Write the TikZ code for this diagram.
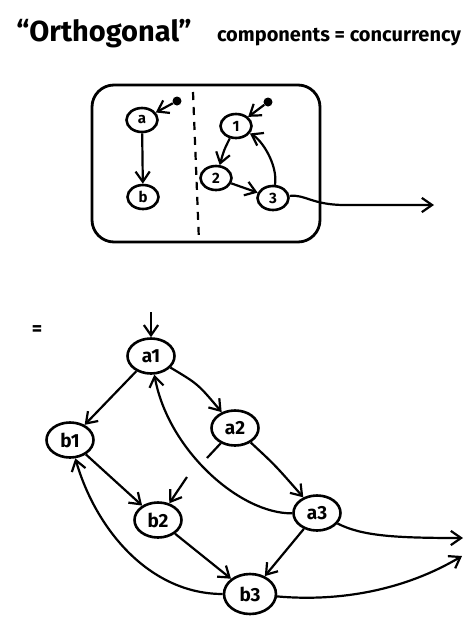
\documentclass[tikz,border=0pt]{standalone}
\usepackage{fontspec}
\setmainfont{Fira Sans}
\usepackage{tikz}
\usetikzlibrary{arrows.meta,shapes.geometric,calc}
\tikzset{
  state/.style    = {draw, ellipse, line width=2.6pt, inner sep=1pt, minimum width=31pt, minimum height=24pt, font=\fontsize{15}{16}\selectfont\bfseries},
  bigstate/.style = {state, minimum width=47pt, minimum height=35pt, font=\fontsize{19}{20}\selectfont\bfseries},
  edge/.style     = {-{Straight Barb[length=3.6mm,width=5mm,line width=2.2pt]}, line width=2.2pt},
  plain/.style    = {line width=2.2pt},
  dot/.style      = {circle, fill, inner sep=0pt, minimum size=9pt},
}

\begin{document}
\begin{tikzpicture}[x=1pt, y=-1pt]
  \useasboundingbox (0,0) rectangle (474,622);
  % title
  \node[font=\fontsize{29}{34}\selectfont\bfseries] (title1) at (104,34) {``Orthogonal''};
  \node[font=\fontsize{20}{24}\selectfont\bfseries] (title2) at (339,37) {components = concurrency};

  % the two orthogonal components
  \draw[line width=2.8pt, rounded corners=22pt] (92,85) rectangle (320,242);
  \draw[plain, dash pattern=on 8pt off 7pt] (193,92) -- (199,242);
  \node[dot] (adot) at (177,101) {};
  \node[state] (a) at (142,120) {a};
  \node[state] (b) at (143,197) {b};
  \node[dot] (onedot) at (268,102) {};
  \node[state] (one) at (236,126) {1};
  \node[state] (two) at (216,178) {2};
  \node[state] (three) at (273,198) {3};
  \coordinate (exit3) at (434,205);
  \draw[edge] (adot) -- (a);
  \draw[edge] (a) -- (b);
  \draw[edge] (onedot) -- (one);
  \draw[edge] (one) .. controls (224,150) .. (two);
  \draw[edge] (two) -- (three);
  \draw[edge] (three) .. controls (278,165) and (262,140) .. (one);
  \draw[edge] (three) .. controls (305,194) and (312,205) .. (345,205) -- (exit3);

  % product machine
  \node[font=\fontsize{20}{22}\selectfont\bfseries] (eq) at (37,331) {=};
  \node[bigstate] (a1) at (151,356) {a1};
  \node[bigstate] (b1) at (70,440) {b1};
  \node[bigstate] (a2) at (235,428) {a2};
  \node[bigstate] (b2) at (158,520) {b2};
  \node[bigstate] (a3) at (317,513) {a3};
  \node[bigstate, minimum width=52pt, minimum height=40pt] (b3) at (250,594) {b3};
  \coordinate (in1) at (151,312);
  \coordinate (exitA) at (463,538);
  \coordinate (exitB) at (462,556);
  \coordinate (cutA) at (207,458);
  \coordinate (cutB) at (187,477);
  \draw[edge] (in1) -- (a1);
  \draw[edge] (a1) -- (b1);
  \draw[edge] (a1) .. controls (198,384) .. (a2);
  \draw[edge] (a2) .. controls (275,465) .. (a3);
  \draw[edge] (a3) .. controls (240,514) and (168,450) .. (a1);
  \draw[plain] (a2) -- (cutA);
  \draw[edge] (cutB) -- (b2);
  \draw[edge] (b1) -- (b2);
  \draw[edge] (b2) -- (b3);
  \draw[edge] (a3) -- (b3);
  \draw[edge] (b3) .. controls (150,594) and (96,530) .. (b1);
  \draw[edge] (a3) .. controls (362,536) and (395,538) .. (exitA);
  \draw[edge] (b3) .. controls (340,602) and (405,590) .. (exitB);
\end{tikzpicture}
\end{document}
